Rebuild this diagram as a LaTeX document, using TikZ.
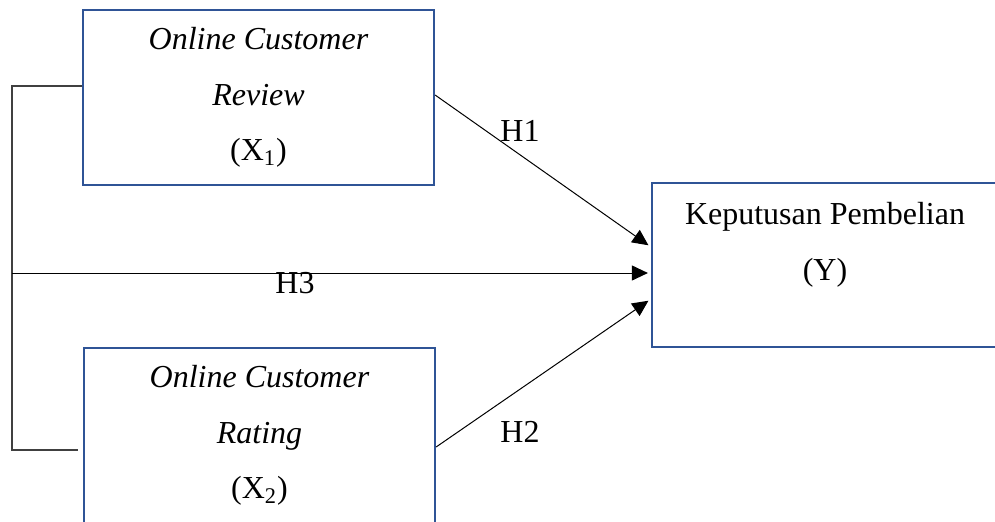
\documentclass[tikz,border=0pt]{standalone}
\usepackage{fontspec}
\setmainfont{Liberation Serif}
\usepackage{xcolor}
\usepackage{tikz}
\usetikzlibrary{shapes,arrows,positioning,calc,arrows.meta}
\definecolor{boxblue}{RGB}{47,84,150}

\begin{document}
\begin{tikzpicture}[x=0.5pt, y=-0.5pt, font=\fontsize{16}{27.75}\selectfont,
    var/.style={draw=boxblue, line width=1.1pt, minimum width=175.5pt, minimum height=87.5pt, align=center, inner sep=0pt},
    arr/.style={-{Triangle[length=8pt,width=7.5pt]}, line width=0.5pt, shorten >=1.5pt},
    bracket/.style={draw=black!75, line width=0.6pt}]
    \useasboundingbox (0,0) rectangle (995,521);
    \clip (0,0) rectangle (995,521);

    % Independent variables
    \node[var] (rev) at (258.5,97.5) {\textit{Online Customer}\\\textit{Review}\\(X\textsubscript{1})};
    \node[var] (rat) at (259.5,435.5) {\textit{Online Customer}\\\textit{Rating}\\(X\textsubscript{2})};

    % Dependent variable
    \node[var, minimum width=174pt, minimum height=82pt] (kp) at (826,265) {};
    \node[align=center] (kptxt) at (825,245) {Keputusan Pembelian\\(Y)};

    % Simultaneous path
    \coordinate (bk) at (12,273);
    \draw[bracket] ($(rev.west)+(0,-11.5)$) -| (bk) |- ($(rat.west)+(-5,14.5)$);

    % Hypotheses
    \draw[arr] ($(rev.east)+(0,-2.5)$) -- ($(kp.west)+(0,-18)$);
    \draw[arr] (bk) -- ($(kp.west)+(0,8)$);
    \draw[arr] ($(rat.east)+(0,11.5)$) -- ($(kp.west)+(0,34)$);
    \node (h1) at (520,131) {H1};
    \node (h3) at (295,283) {H3};
    \node (h2) at (520,432) {H2};
\end{tikzpicture}
\end{document}
